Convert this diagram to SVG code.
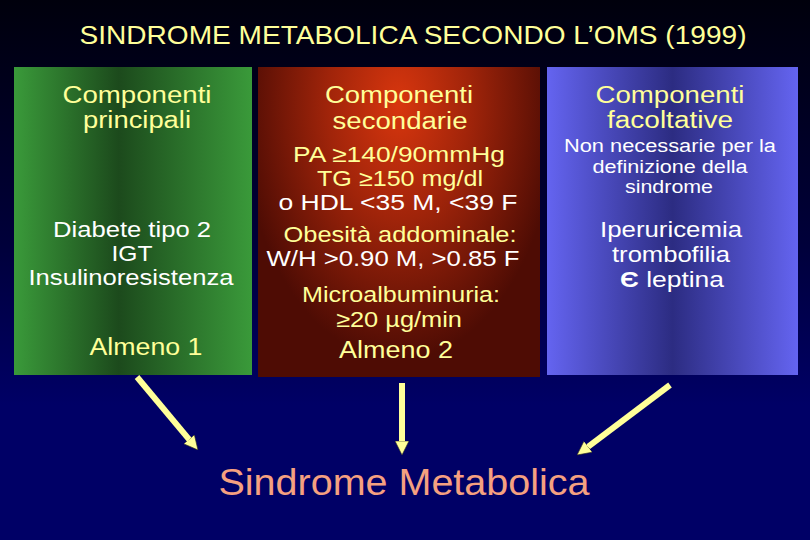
<svg xmlns="http://www.w3.org/2000/svg" width="810" height="540" viewBox="0 0 810 540">
<defs>
<linearGradient id="bg" x1="0" y1="0" x2="0" y2="1">
<stop offset="0" stop-color="#00000c"/>
<stop offset="0.45" stop-color="#00003a"/>
<stop offset="0.75" stop-color="#000066"/>
<stop offset="1" stop-color="#000066"/>
</linearGradient>
<linearGradient id="gGreen" x1="0" y1="0" x2="1" y2="0">
<stop offset="0" stop-color="#3a9a3a"/>
<stop offset="0.44" stop-color="#1c4a1c"/>
<stop offset="1" stop-color="#3a9a3a"/>
</linearGradient>
<radialGradient id="gRed" cx="0.5" cy="0.12" r="0.75" gradientTransform="translate(0.5 0.12) scale(0.75 1.1) translate(-0.5 -0.12)">
<stop offset="0" stop-color="#d8360e"/>
<stop offset="0.45" stop-color="#a0240a"/>
<stop offset="1" stop-color="#4e0c04"/>
</radialGradient>
<linearGradient id="gBlue" x1="0" y1="0" x2="1" y2="0">
<stop offset="0" stop-color="#6464f0"/>
<stop offset="0.5" stop-color="#2c2c82"/>
<stop offset="1" stop-color="#6464f0"/>
</linearGradient>
<marker id="head" viewBox="0 -7 14 14" refX="2" refY="0" markerWidth="14" markerHeight="14" markerUnits="userSpaceOnUse" orient="auto">
<path d="M0,-7 L14,0 L0,7 z" fill="#ffff99" stroke="#2a2a20" stroke-width="0.6"/>
</marker>
</defs>
<style>
text{font-family:"Liberation Sans",Arial,sans-serif;text-anchor:middle;}
.y{fill:#ffff99;}
.w{fill:#ffffff;}
.h{font-size:23px;}
.b{font-size:22px;}
.s{font-size:18px;}
.arrow{stroke:#ffff99;stroke-width:6;fill:none;marker-end:url(#head);}
</style>
<rect x="0" y="0" width="810" height="540" fill="url(#bg)"/>
<text id="title" class="y" x="413" y="44" font-size="26" textLength="667" lengthAdjust="spacingAndGlyphs">SINDROME METABOLICA SECONDO L’OMS (1999)</text>

<g id="principali">
<rect x="14" y="67" width="238" height="308" fill="url(#gGreen)"/>
<text class="y h" x="137" y="103" textLength="149" lengthAdjust="spacingAndGlyphs">Componenti</text>
<text class="y h" x="137" y="128" textLength="108" lengthAdjust="spacingAndGlyphs">principali</text>
<text class="w b" x="132" y="237" textLength="158" lengthAdjust="spacingAndGlyphs">Diabete tipo 2</text>
<text class="w b" x="132" y="261" textLength="41" lengthAdjust="spacingAndGlyphs">IGT</text>
<text class="w b" x="131" y="285" textLength="205" lengthAdjust="spacingAndGlyphs">Insulinoresistenza</text>
<text class="y h" x="146" y="355" textLength="113" lengthAdjust="spacingAndGlyphs">Almeno 1</text>
</g>

<g id="secondarie">
<rect x="258" y="67" width="282" height="310" fill="url(#gRed)"/>
<text class="y h" x="399" y="103" textLength="148" lengthAdjust="spacingAndGlyphs">Componenti</text>
<text class="y h" x="400" y="129" textLength="135" lengthAdjust="spacingAndGlyphs">secondarie</text>
<text class="y b" x="399" y="162" textLength="212" lengthAdjust="spacingAndGlyphs">PA ≥140/90mmHg</text>
<text class="y b" x="400" y="186" textLength="166" lengthAdjust="spacingAndGlyphs">TG ≥150 mg/dl</text>
<text class="w b" x="398" y="210" textLength="239" lengthAdjust="spacingAndGlyphs">o HDL &lt;35 M, &lt;39 F</text>
<text class="y b" x="400" y="242" textLength="233" lengthAdjust="spacingAndGlyphs">Obesità addominale:</text>
<text class="w b" x="393" y="266" textLength="253" lengthAdjust="spacingAndGlyphs">W/H &gt;0.90 M, &gt;0.85 F</text>
<text class="y b" x="401" y="302" textLength="198" lengthAdjust="spacingAndGlyphs">Microalbuminuria:</text>
<text class="y b" x="399" y="327" textLength="126" lengthAdjust="spacingAndGlyphs">≥20 µg/min</text>
<text class="y h" x="396" y="358" textLength="114" lengthAdjust="spacingAndGlyphs">Almeno 2</text>
</g>

<g id="facoltative">
<rect x="547" y="67" width="251" height="308" fill="url(#gBlue)"/>
<text class="y h" x="670" y="103" textLength="149" lengthAdjust="spacingAndGlyphs">Componenti</text>
<text class="y h" x="670" y="128" textLength="126" lengthAdjust="spacingAndGlyphs">facoltative</text>
<text class="w s" x="670" y="152" textLength="212" lengthAdjust="spacingAndGlyphs">Non necessarie per la</text>
<text class="w s" x="670" y="173" textLength="155" lengthAdjust="spacingAndGlyphs">definizione della</text>
<text class="w s" x="669" y="193" textLength="88" lengthAdjust="spacingAndGlyphs">sindrome</text>
<text class="w b" x="671" y="237" textLength="142" lengthAdjust="spacingAndGlyphs">Iperuricemia</text>
<text class="w b" x="671" y="262" textLength="118" lengthAdjust="spacingAndGlyphs">trombofilia</text>
<text class="w b" x="672" y="287" textLength="104" lengthAdjust="spacingAndGlyphs"><tspan font-weight="bold">Є</tspan> leptina</text>
</g>

<g id="connectors">
<line class="arrow" x1="137" y1="377" x2="190.3" y2="440.8"/>
<line class="arrow" x1="402" y1="383" x2="402" y2="443"/>
<line class="arrow" x1="670" y1="385" x2="586.6" y2="447.8"/>
</g>

<g id="result">
<text x="404" y="495" font-size="37" fill="#f5a080" textLength="371" lengthAdjust="spacingAndGlyphs">Sindrome Metabolica</text>
</g>
</svg>
